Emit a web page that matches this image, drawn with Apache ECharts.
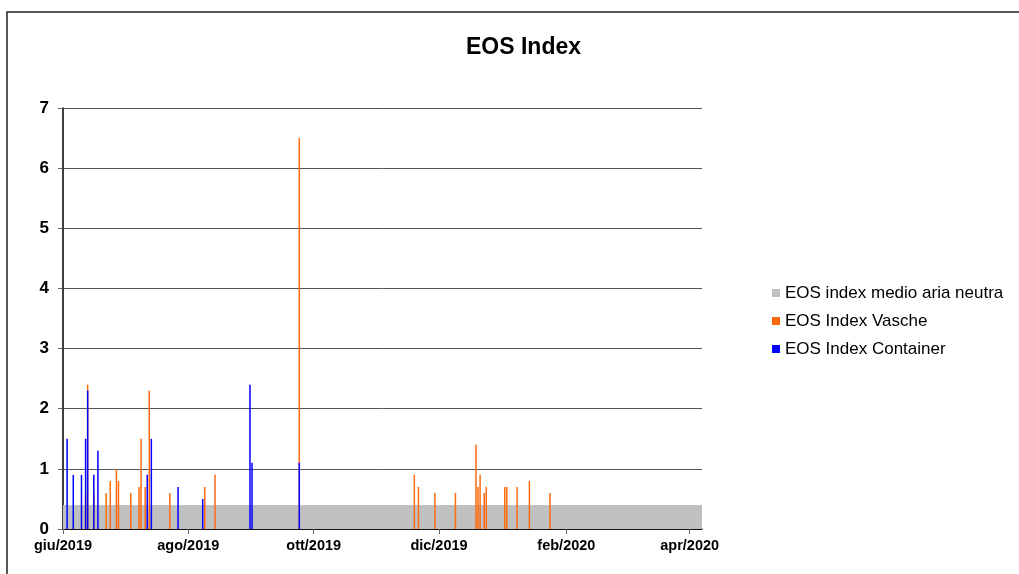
<!DOCTYPE html>
<html>
<head>
<meta charset="utf-8">
<script src="https://cdn.jsdelivr.net/npm/echarts@6/dist/echarts.min.js"></script>
<style>
  html, body { margin: 0; padding: 0; background: #fff; }
  #chart { width: 1019px; height: 574px; }
</style>
</head>
<body>
<div id="chart"></div>
<script>
// ---------------------------------------------------------------------------
// data

const axisStart = '2019-06-01';
const axisEnd = '2020-04-07';

const tickDates = ['2019-06-01', '2019-08-01', '2019-10-01', '2019-12-01', '2020-02-01', '2020-04-01'];
const tickLabels = ['giu/2019', 'ago/2019', 'ott/2019', 'dic/2019', 'feb/2020', 'apr/2020'];

const neutralLevel = 0.4;

const vascheDates = [
    '2019-06-12', '2019-06-13', '2019-06-16', '2019-06-22', '2019-06-24', '2019-06-27',
    '2019-06-28', '2019-07-04', '2019-07-08', '2019-07-09', '2019-07-11', '2019-07-13',
    '2019-07-23', '2019-08-09', '2019-08-14', '2019-09-24', '2019-11-19', '2019-11-21',
    '2019-11-29', '2019-12-09', '2019-12-19', '2019-12-20', '2019-12-21', '2019-12-23',
    '2019-12-24', '2020-01-02', '2020-01-03', '2020-01-08', '2020-01-14', '2020-01-24'
];
const vascheValues = [
    0.6, 2.4, 0.6, 0.6, 0.8, 1.0,
    0.8, 0.6, 0.7, 1.5, 0.7, 2.3,
    0.6, 0.7, 0.9, 6.5, 0.9, 0.7,
    0.6, 0.6, 1.4, 0.7, 0.9, 0.6,
    0.7, 0.7, 0.7, 0.7, 0.8, 0.6
];

const containerDates = [
    '2019-06-03', '2019-06-06', '2019-06-10', '2019-06-12', '2019-06-13', '2019-06-16',
    '2019-06-18', '2019-07-12', '2019-07-14', '2019-07-27', '2019-08-08', '2019-08-31',
    '2019-09-01', '2019-09-24'
];
const containerValues = [
    1.5, 0.9, 0.9, 1.5, 2.3, 0.9,
    1.3, 0.9, 1.5, 0.7, 0.5, 2.4,
    1.1, 1.1
];

// ---------------------------------------------------------------------------
// x is counted in days from axisStart (value axis, labels set by hand)

function dayOf(s) {
    let p = s.split('-').map(Number);
    let a = s0 => Date.UTC(s0[0], s0[1] - 1, s0[2]);
    return Math.round((a(p) - a(axisStart.split('-').map(Number))) / 86400000);
}

function pairs(dates, values) {
    return dates.map((d, i) => [dayOf(d), values[i]]);
}

const tickDays = tickDates.map(dayOf);
const xMin = 0;
const xMax = dayOf(axisEnd);

let chart = echarts.init(document.getElementById('chart'));

chart.setOption({
    animation: false,
    backgroundColor: '#fff',
    textStyle: { fontFamily: 'Liberation Sans, Arial, sans-serif' },
    title: {
        text: 'EOS Index',
        left: 461,
        top: 31,
        textStyle: { fontSize: 23, fontWeight: 'bold', color: '#000', fontFamily: 'Liberation Sans, Arial, sans-serif' }
    },
    graphic: [{
        type: 'rect',
        shape: { x: 7, y: 12, width: 1100, height: 700 },
        style: { fill: 'none', stroke: '#222', lineWidth: 1.5 },
        silent: true
    }],
    legend: {
        orient: 'vertical',
        left: 767,
        top: 279,
        itemWidth: 8,
        itemHeight: 8,
        itemGap: 10,
        icon: 'rect',
        textStyle: { fontSize: 17, color: '#000', lineHeight: 18 },
        data: ['EOS index medio aria neutra', 'EOS Index Vasche', 'EOS Index Container']
    },
    grid: { left: 63, top: 108, right: 317, bottom: 45, containLabel: false },
    xAxis: {
        type: 'value',
        min: xMin,
        max: xMax,
        axisLine: { lineStyle: { color: '#000', width: 1.5 } },
        axisTick: { show: true, customValues: tickDays, length: 5, lineStyle: { color: '#666' } },
        axisLabel: {
            customValues: tickDays,
            fontSize: 14.5,
            fontWeight: 'bold',
            color: '#000',
            margin: 9,
            formatter: function (v) {
                let i = tickDays.indexOf(v);
                return i >= 0 ? tickLabels[i] : '';
            }
        },
        splitLine: { show: false }
    },
    yAxis: {
        type: 'value',
        min: 0,
        max: 7,
        interval: 1,
        axisLine: { show: true, lineStyle: { color: '#000', width: 1.5 } },
        axisTick: { show: true, length: 5, lineStyle: { color: '#666' } },
        axisLabel: { fontSize: 17, fontWeight: 'bold', color: '#000', margin: 14 },
        splitLine: { lineStyle: { color: '#555', width: 1 } }
    },
    series: [
        {
            name: 'EOS index medio aria neutra',
            type: 'line',
            data: [[xMin, neutralLevel], [xMax, neutralLevel]],
            showSymbol: false,
            color: '#c0c0c0',
            lineStyle: { width: 0 },
            areaStyle: { color: '#c0c0c0', opacity: 1 },
            z: 1
        },
        {
            name: 'EOS Index Vasche',
            type: 'bar',
            data: pairs(vascheDates, vascheValues),
            color: '#ff6a10',
            barWidth: 1.5,
            barGap: '-100%',
            z: 3
        },
        {
            name: 'EOS Index Container',
            type: 'bar',
            data: pairs(containerDates, containerValues),
            color: '#0000ff',
            barWidth: 1.5,
            barGap: '-100%',
            z: 4
        }
    ]
});
</script>
</body>
</html>
